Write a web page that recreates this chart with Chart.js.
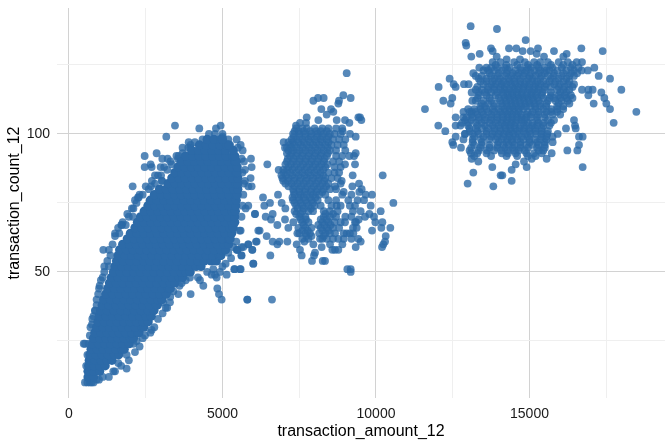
<!DOCTYPE html>
<html>
<head>
<meta charset="utf-8">
<script src="https://cdn.jsdelivr.net/npm/chart.js@4"></script>
<style>
  html, body { margin: 0; padding: 0; background: #fff; }
  canvas { display: block; }
</style>
</head>
<body>
<canvas id="chart" width="672" height="447"></canvas>
<script>
const xTicks = [0, 2500, 5000, 7500, 10000, 12500, 15000, 17500];
const yTicks = [25, 50, 75, 100, 125];
const xLabels = [0, 5000, 10000, 15000];
const yLabels = [50, 100];

// heavily overplotted part of the main cloud, one x list per count value
const blobRowY = [12,14,16,18,20,22,24,26,28,30,32,34,36,38,40,42,44,46,48,50,52,54,56,58,60,62,64,66,68,70,72,74,76,78,80,82,84,86,88,90,92,94,96,98];
const blobRowX = [
  [620,800],
  [620,800,1000],
  [640,820,1000,1180],
  [660,850,1040,1230,1400],
  [680,880,1080,1280,1480,1620],
  [720,920,1120,1320,1520,1720,1800],
  [760,960,1160,1360,1560,1760,1960],
  [800,1000,1200,1400,1600,1800,2000,2100],
  [840,1040,1240,1440,1640,1840,2040,2240,2280],
  [900,1110,1320,1530,1740,1950,2160,2370,2440],
  [940,1150,1360,1570,1780,1990,2200,2410,2580],
  [980,1200,1420,1640,1860,2080,2300,2520,2680],
  [1030,1250,1470,1690,1910,2130,2350,2570,2770],
  [1080,1300,1520,1740,1960,2180,2400,2620,2840,2880],
  [1130,1350,1570,1790,2010,2230,2450,2670,2890,3030],
  [1200,1420,1640,1860,2080,2300,2520,2740,2960,3170],
  [1260,1480,1700,1920,2140,2360,2580,2800,3020,3240,3300],
  [1320,1540,1760,1980,2200,2420,2640,2860,3080,3300,3450],
  [1380,1600,1820,2040,2260,2480,2700,2920,3140,3360,3580,3700],
  [1450,1670,1890,2110,2330,2550,2770,2990,3210,3430,3650,3800,3950],
  [1500,1720,1940,2160,2380,2600,2820,3040,3260,3480,3700,3920,4140,4300],
  [1550,1770,1990,2210,2430,2650,2870,3090,3310,3530,3750,3970,4190,4410,4630,4800],
  [1600,1820,2040,2260,2480,2700,2920,3140,3360,3580,3800,4020,4240,4460,4680,4900,4950],
  [1650,1870,2090,2310,2530,2750,2970,3190,3410,3630,3850,4070,4290,4510,4730,4950,5100],
  [1750,1970,2190,2410,2630,2850,3070,3290,3510,3730,3950,4170,4390,4610,4830,5050,5200],
  [1900,2120,2340,2560,2780,3000,3220,3440,3660,3880,4100,4320,4540,4760,4980,5200,5250],
  [2000,2220,2440,2660,2880,3100,3320,3540,3760,3980,4200,4420,4640,4860,5080,5300],
  [2150,2370,2590,2810,3030,3250,3470,3690,3910,4130,4350,4570,4790,5010,5230,5350],
  [2230,2450,2670,2890,3110,3330,3550,3770,3990,4210,4430,4650,4870,5090,5310,5400],
  [2330,2550,2770,2990,3210,3430,3650,3870,4090,4310,4530,4750,4970,5190,5400],
  [2450,2670,2890,3110,3330,3550,3770,3990,4210,4430,4650,4870,5090,5310,5420],
  [2570,2790,3010,3230,3450,3670,3890,4110,4330,4550,4770,4990,5210,5430],
  [2650,2870,3090,3310,3530,3750,3970,4190,4410,4630,4850,5070,5290,5450],
  [2780,3000,3220,3440,3660,3880,4100,4320,4540,4760,4980,5200,5420,5480],
  [2950,3170,3390,3610,3830,4050,4270,4490,4710,4930,5150,5370,5500],
  [3230,3450,3670,3890,4110,4330,4550,4770,4990,5210,5430,5500],
  [3350,3570,3790,4010,4230,4450,4670,4890,5110,5330,5500],
  [3450,3670,3890,4110,4330,4550,4770,4990,5210,5430,5480],
  [3550,3770,3990,4210,4430,4650,4870,5090,5310,5480],
  [3650,3870,4090,4310,4530,4750,4970,5190,5410,5450],
  [3800,4020,4240,4460,4680,4900,5120,5340,5400],
  [4000,4220,4440,4660,4880,5100,5350],
  [4250,4470,4690,4910,5130,5200],
  [4500,4720,4940,5000]
];

// rim of the main cloud and its outliers
const blobEdge = [
  [560,16],[600,20],[640,24],[700,30],[760,33],[850,36],[900,40],[980,44],[1040,47],[1150,50],[1300,52],[1350,56],[1420,60],[1500,63],[1640,64],
  [1850,67],[1950,70],[2100,73],[2200,75],[2400,78],[2600,80],[2800,82],[3000,85],[3200,87],[3350,89],[3550,91],[3700,93],[3950,95],[4100,97],[4350,98],
  [1500,64],[1600,66],[1750,68],[1900,71],[2050,73],[2150,76],[2300,78],[2500,81],[2700,83],[2900,85],[3100,88],[3300,90],[3500,92],[3700,95],[3900,97],
  [1300,58],[1250,54],[1150,52],[1100,48],[1000,45],[950,42],[900,38],[800,34],[750,31],[680,27],[1726,67],[2085,70],[2248,77],[2671,81],[3029,83],
  [5000,100],[5250,96],[5500,95],[5700,90],[5650,86],[5700,82],[5680,78],[5650,74],[5620,70],[5560,65],[5450,61],[5350,59],[5280,55],[5000,52],[4700,51],
  [4500,50],[4200,48],[3800,47],[3600,45],[3400,43],[3300,41],[3200,37],[3050,35],[2900,33],[2780,30],[2650,28],[2400,26],[2300,23],[2150,21],[1950,18],
  [1700,16],[1500,14],[1300,12],[1100,12],[900,11],[800,10],[600,10],[680,10],[520,10],[738,10],
  [3453,103],[4245,102],[4940,103],[4788,102],[4755,100],[4560,100],[3170,99],[2465,92],[2855,93],[3040,91],[3214,91],[3572,92],[2465,88],[2660,89],[2693,88],
  [2986,88],[2801,85],[3029,83],[2074,81],[2270,77],[1118,58],[1705,67],[3887,95],[3963,96],[4267,96],[5005,99],[5190,98],[5461,98],[5592,96],[5657,94],
  [5928,91],[5624,91],[5950,88],[5733,87],[5733,83],[5917,84],[5950,81],[5841,81],[5841,74],[5755,73],[6058,71],[6167,65],[5592,65],[6091,61],[5841,60],
  [5624,59],[5972,58],[5461,58],[5494,58],[5624,56],[6004,53],[5385,51],[5592,51],[5136,49],[5103,53],[5190,57],[4918,50],[4755,49],[4810,48],[4647,49],
  [4267,47],[4376,45],[4832,44],[4886,42],[4973,40],[5809,40],[3561,42],[3963,42],[3670,46],[3941,48],[3290,39],[3073,39],[3149,37],[2693,29],[2476,27],
  [2204,25],[2096,24],[1878,20],[1878,15],[1607,17],[1444,14],[977,11],[521,24],[480,24],[847,36]
];

// middle cluster, dense rows then loose points
const midRowY = [102,101,100,99,98,97,96,95,94,93,92,91,90,89,88,87,86,85,84,83,82,81,80,79,78,77,76,75,74,73,72,71,70,69,68,67,66,65,64,63,62];
const midRowX = [
  [7400,7600,7750,8000,8250,8450,8700,8900],
  [7350,7480,7650,7850,8050,8200,8400],
  [7300,7500,7700,7900,8100,8300,8500,8650,8850],
  [7320,7500,7700,7880,8080,8250,8450],
  [7250,7400,7600,7800,8000,8200,8400,8600,8800,9000],
  [7150,7300,7480,7650,7850,8050,8250,8450],
  [7200,7350,7550,7750,7950,8150,8350,8550,8750,8950],
  [7100,7250,7420,7620,7820,8020,8220,8430],
  [7150,7300,7500,7700,7900,8100,8300,8500,8700,9000],
  [7100,7250,7430,7620,7830,8030,8230,8430],
  [7200,7400,7600,7800,8000,8200,8400,8700,8900],
  [7130,7320,7520,7720,7920,8130,8330],
  [7100,7300,7500,7700,7900,8100,8300,8600,8800],
  [7050,7230,7420,7620,7830,8020,8220,8420],
  [7150,7350,7550,7750,7950,8150,8350,8650,8850],
  [6980,7100,7280,7480,7680,7880,8080,8280],
  [7000,7200,7400,7600,7800,8000,8200,8450,8650,8800],
  [6920,7070,7270,7480,7680,7870,8080,8280],
  [6950,7150,7350,7550,7750,7950,8150,8350,8550,8750],
  [6980,7130,7330,7520,7720,7920,8120,8320],
  [7050,7250,7450,7650,7850,8050,8250,8450,8850],
  [7150,7350,7560,7760,7980,8180,8380],
  [7300,7500,7700,7900,8100,8300,8500,8700],
  [7320,7500,7680,7880,8050,8250],
  [7350,7550,7750,7950,8150,8350,8900,9200],
  [7280,7480,7650,7850,8030],
  [7300,7500,7700,7900,8100,8450,8700,9100,9400],
  [7350,7550,7750,7950],
  [7400,7600,7800,8000,8200,8550,8850,9150],
  [7450,7650,7880],
  [7350,7600,7800,7950,8300,8500,8750,9250,9500],
  [7400,7550,8350,8600],
  [7500,7700,8300,8500,8700,9000,9200],
  [7550,7720,8200,8400],
  [7600,7800,8250,8450,8650,8850,9350],
  [7650,8120,8320,8520],
  [7700,7900,8200,8400,8600,8800,9250],
  [7600,7780,8250,8450],
  [7500,7700,7850,8150,8350,8500,8950,9150],
  [7730,7900,8300],
  [7600,7800,8250,8400,8600,8950,9200]
];
const midLoose = [
  [9046,122],[8937,114],[9176,113],[8296,113],[8112,113],[7960,112],[8796,112],[8774,111],[8220,109],[8535,109],[8611,108],[7743,106],[7525,104],[7395,103],[7721,104],
  [9426,106],[9524,105],[9480,106],[9133,104],[8123,105],[8394,107],[8720,105],[8991,105],[8915,101],[9339,99],[9154,100],[6993,97],[7037,95],[9339,93],[9285,92],
  [9133,92],[9317,89],[8991,89],[6830,87],[6461,89],[10219,85],[9241,85],[8883,83],[9448,82],[9230,81],[8666,81],[9534,80],[9458,79],[9871,78],[9665,78],
  [8948,79],[9611,76],[9828,74],[10566,75],[10153,72],[9317,74],[8720,74],[6809,78],[6320,77],[6548,75],[6363,74],[6928,75],[7048,73],[6059,71],[6407,70],
  [6635,71],[6581,69],[6787,67],[6211,65],[6439,63],[6635,61],[6787,60],[6852,61],[7113,61],[7417,60],[7525,58],[7580,56],[8014,57],[7982,56],[7916,54],
  [8264,54],[8340,54],[6559,56],[6005,53],[6114,61],[5842,60],[5972,58],[5614,56],[5484,58],[5679,59],[5397,51],[5571,51],[5810,40],[6613,40],[9068,51],
  [9176,51],[9176,50],[9339,59],[9502,61],[8905,60],[8666,58],[8579,58],[8774,58],[8231,59],[9871,65],[10208,68],[10175,66],[10468,66],[10317,63],[10295,61],
  [10240,60],[10197,59],[9980,68],[9936,70],[9784,71],[9643,70],[9437,69],[9317,68],[9372,66],[8991,68],[7037,69],[7145,66],[7308,68],[7471,66],[7439,64],
  [7667,61],[7960,60],[8177,62],[8503,60],[8666,64],[9046,64],[9263,64],[9426,62],[8774,62]
];

// right cluster
const highRowY = [126,125,124,123,122,121,120,119,118,117,116,115,114,113,112,111,110,109,108,107,106,105,104,103,102,101,100,99,98,97,96,95,94,93,92];
const highRowX = [
  [13800,14050,14500,14850,15150,15350,15600,15950,16250],
  [13900,14250,14600,14950,15250,15700,16100,16400],
  [13600,13750,13950,14200,14350,14700,14950,15050,15300,15500,15750,16050,16350,16600],
  [13500,13650,13850,14100,14300,14550,14750,14900,15150,15350,15550,15650,15900,16200,16450,16700,16900],
  [13700,14000,14250,14450,14650,14850,15050,15300,15500,15800,16100,16350,16550],
  [13250,13450,13750,13950,14200,14400,14600,14800,15000,15200,15400,15600,15800,16050,16300,16450],
  [13350,13600,13850,14050,14300,14500,14700,14950,15100,15350,15700,15950,16200],
  [13400,13600,13800,14000,14150,14350,14500,14700,14900,15100,15250,15450,15650,15850,16100,16300],
  [13500,13750,13900,14100,14250,14400,14550,14700,14850,15000,15200,15350,15550,15800,16000,16250,16450],
  [13300,13650,13850,14050,14200,14450,14620,14800,14950,15150,15300,15500,15700,15950,16150,16400],
  [13250,13450,13650,13850,14050,14200,14350,14500,14650,14800,15000,15150,15300,15500,15900,16100,16300],
  [13350,13550,13750,13950,14130,14280,14430,14580,14750,14930,15080,15250,15420,15700,16000,16200],
  [13350,13600,13900,14150,14300,14450,14600,14750,14900,15050,15200,15400,15700,15950,16150,16350],
  [13300,13700,14000,14200,14350,14500,14650,14800,14950,15100,15250,15450,15650,15800,16000,16200,16400],
  [13250,13500,13750,14050,14230,14380,14530,14680,14830,14980,15130,15300,15600,15850,16050,16250],
  [13450,13650,13850,14100,14250,14400,14550,14700,14850,15000,15150,15350,15550,15950,16300],
  [13400,13550,13850,14100,14270,14430,14570,14730,14880,15030,15180,15350,15550,15900,16100],
  [13000,13200,13400,13600,13800,14000,14200,14350,14500,14650,14800,15200,15450,15700,15900,16100],
  [12850,13050,13250,13450,13650,13850,14050,14200,14350,14500,14650,14950,15100,15300,15550,15700,15900],
  [13100,13300,13500,13750,13950,14120,14280,14430,14580,14730,14900,15050,15280,15500,15750,16000],
  [12950,13150,13350,13550,13750,13950,14150,14300,14450,14600,14750,14900,15050,15250,15500],
  [12900,13100,13350,13550,13750,13950,14120,14280,14430,14580,14730,14850,15250,15600,15800],
  [12800,13000,13250,13450,13700,13900,14100,14250,14400,14550,14800,14950,15100,15300,15450,15700],
  [12750,13000,13300,13550,13800,14000,14200,14350,14500,14700,14900,15100,15250,15450,15650],
  [13050,13250,13450,13650,13850,14050,14220,14380,14530,14680,14830,15000,15180,15400],
  [13050,13300,13600,13850,14050,14250,14400,14600,14800,15000,15200,15400,15600],
  [12900,13150,13350,13600,13800,14000,14170,14330,14480,14650,14880,15030,15200,15380,15580],
  [13200,13500,13750,13950,14150,14350,14550,14750,14950,15400,15550,15750],
  [12850,13150,13420,13680,13900,14100,14280,14430,14600,14800,15000,15180,15350,15550],
  [13150,13450,14000,14250,14450,14700,15000,15250,15500],
  [13200,13450,13700,13950,14150,14320,14500,14700,14900,15100,15300,15500],
  [13100,13400,13700,13950,14200,14450,14700,14950,15250,15500],
  [13050,13350,13620,13850,14080,14300,14500,14650,14850,15300,15450],
  [13300,13600,14100,14300,14550,14900,15150,15400],
  [13200,13750,14250,14600,14950,15200]
];
const highLoose = [
  [13084,139],[13941,138],[14875,134],[12921,133],[12942,132],[13746,131],[14332,131],[14571,131],[15277,131],[16689,131],[17384,130],[14778,130],[15038,130],[15798,130],[13377,129],
  [13105,128],[13800,130],[13931,128],[15234,129],[15473,128],[16211,129],[16103,128],[14256,127],[14691,127],[13366,124],[17112,124],[16711,126],[16537,126],[17254,121],[17623,120],
  [17992,116],[17341,115],[17438,113],[17503,111],[17623,109],[17091,111],[16917,114],[17058,116],[16917,116],[16711,116],[18481,108],[17742,104],[16450,105],[16483,103],[16505,102],
  [16189,102],[16613,99],[16732,99],[16613,96],[16559,94],[16233,94],[16732,88],[15755,97],[15918,100],[14419,83],[14115,85],[14061,85],[13822,81],[12986,82],[13170,86],
  [13789,88],[14419,87],[14550,89],[14908,88],[14821,90],[15071,91],[15559,91],[15722,93],[11596,109],[12030,103],[12258,101],[12041,117],[12399,120],[12530,118],[12595,117],
  [12486,113],[12432,111],[12193,112],[12595,106],[12595,103],[12866,118],[13018,118],[12845,106],[12595,99],[12486,97],[12519,96],[12768,95],[12899,100],[13116,108],[13116,115],
  [13138,112],[13170,122],[13094,93],[13116,91],[13333,90]
];

function fromRows(rowY, rowX) {
  const pts = [];
  rowY.forEach((y, i) => rowX[i].forEach(x => pts.push({ x: x, y: y })));
  return pts;
}
function fromPairs(pairs) {
  return pairs.map(p => ({ x: p[0], y: p[1] }));
}

const dotColor = 'rgba(44, 106, 168, 0.8)';
const solidColor = '#2c6aa8';
const tickColor = '#1a1a1a';

function gridColor(labels) {
  return c => labels.includes(c.tick.value) ? '#d2d2d2' : '#efefef';
}

new Chart(document.getElementById('chart').getContext('2d'), {
  type: 'scatter',
  data: {
    datasets: [
      { data: fromPairs(blobEdge), backgroundColor: dotColor, order: 2 },
      { data: fromRows(blobRowY, blobRowX), backgroundColor: solidColor, pointRadius: 4.6, order: 1 },
      { data: fromRows(midRowY, midRowX), backgroundColor: dotColor, order: 3 },
      { data: fromPairs(midLoose), backgroundColor: dotColor, order: 4 },
      { data: fromRows(highRowY, highRowX), backgroundColor: dotColor, order: 5 },
      { data: fromPairs(highLoose), backgroundColor: dotColor, order: 6 }
    ]
  },
  options: {
    responsive: false,
    animation: false,
    layout: { padding: { top: 8, right: 7, left: 0, bottom: 0 } },
    elements: { point: { radius: 3.9, borderWidth: 0 } },
    plugins: { legend: { display: false }, tooltip: { enabled: false } },
    scales: {
      x: {
        type: 'linear',
        min: -390,
        max: 19414,
        afterBuildTicks: axis => { axis.ticks = xTicks.map(v => ({ value: v })); },
        afterFit: axis => { axis.height = 49; axis.paddingLeft = 0; axis.paddingRight = 0; },
        border: { display: false },
        grid: { color: gridColor(xLabels), lineWidth: 1, drawTicks: false },
        ticks: {
          padding: 8,
          maxRotation: 0,
          autoSkip: false,
          color: tickColor,
          font: { family: 'Liberation Sans', size: 14 },
          callback: v => xLabels.includes(v) ? String(v) : ''
        },
        title: {
          display: true,
          text: 'transaction_amount_12',
          color: '#000',
          padding: { top: 0, bottom: 6 },
          font: { family: 'Liberation Sans', size: 16 }
        }
      },
      y: {
        type: 'linear',
        min: 4.35,
        max: 145.6,
        afterBuildTicks: axis => { axis.ticks = yTicks.map(v => ({ value: v })); },
        afterFit: axis => { axis.width = 57; axis.paddingTop = 0; axis.paddingBottom = 0; },
        border: { display: false },
        grid: { color: gridColor(yLabels), lineWidth: 1, drawTicks: false },
        ticks: {
          padding: 7,
          autoSkip: false,
          color: tickColor,
          font: { family: 'Liberation Sans', size: 14 },
          callback: v => yLabels.includes(v) ? String(v) : ''
        },
        title: {
          display: true,
          text: 'transaction_count_12',
          color: '#000',
          padding: { top: 5, bottom: 0 },
          font: { family: 'Liberation Sans', size: 16 }
        }
      }
    }
  }
});
</script>
</body>
</html>
